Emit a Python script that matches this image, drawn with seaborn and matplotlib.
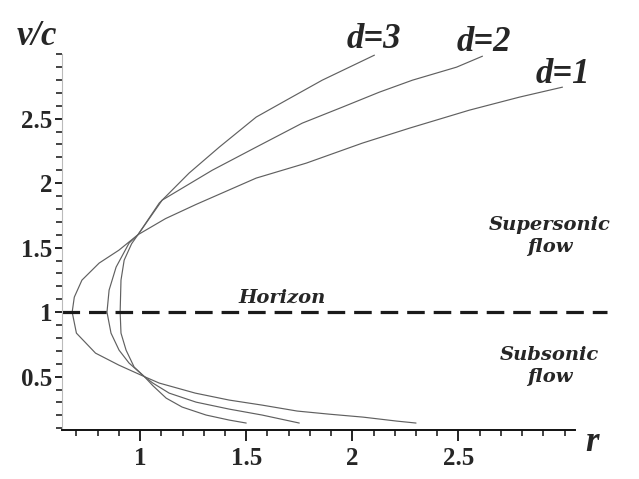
import matplotlib
matplotlib.use("Agg")
import matplotlib.pyplot as plt
from matplotlib.ticker import FixedLocator
import seaborn as sns
import pandas as pd

sns.set_style("white")
plt.rcParams['font.family'] = ['Liberation Serif', 'DejaVu Serif']

# curves, ordered from the subsonic end to the supersonic end
r_d1 = [2.30, 2.21, 2.05, 1.89, 1.74, 1.575, 1.42, 1.26, 1.09, 1.02, 0.90, 0.79, 0.70,
        0.68, 0.69, 0.726, 0.807, 0.90, 0.99, 1.12, 1.264, 1.547, 1.783, 2.047, 2.269,
        2.552, 2.788, 2.99]
v_d1 = [0.14, 0.155, 0.186, 0.209, 0.233, 0.279, 0.318, 0.372, 0.45, 0.50, 0.589, 0.682,
        0.837, 1.0, 1.116, 1.248, 1.38, 1.48, 1.60, 1.725, 1.835, 2.039, 2.155, 2.31, 2.426,
        2.566, 2.667, 2.744]

r_d2 = [1.75, 1.575, 1.42, 1.264, 1.137, 1.06, 1.02, 0.948, 0.901, 0.863, 0.844, 0.854,
        0.887, 0.948, 0.99, 1.104, 1.34, 1.547, 1.764, 1.953, 2.127, 2.283, 2.491, 2.613]
v_d2 = [0.14, 0.202, 0.248, 0.302, 0.372, 0.45, 0.50, 0.605, 0.705, 0.837, 1.0, 1.171,
        1.349, 1.535, 1.60, 1.868, 2.10, 2.279, 2.465, 2.589, 2.705, 2.798, 2.899, 2.984]

r_d3 = [1.50, 1.42, 1.311, 1.198, 1.123, 1.06, 1.02, 0.972, 0.934, 0.910, 0.906, 0.910,
        0.925, 0.96, 0.99, 1.09, 1.231, 1.373, 1.547, 1.689, 1.858, 2.104]
v_d3 = [0.14, 0.163, 0.202, 0.264, 0.333, 0.43, 0.50, 0.574, 0.705, 0.837, 1.0, 1.248,
        1.403, 1.53, 1.60, 1.845, 2.078, 2.279, 2.512, 2.643, 2.798, 2.992]

x_ticks = [1, 1.5, 2, 2.5]
x_tick_labels = ['1', '1.5', '2', '2.5']
y_ticks = [0.5, 1, 1.5, 2, 2.5]
y_tick_labels = ['0.5', '1', '1.5', '2', '2.5']
horizon_r = [0.632, 3.2]
horizon_v = [1, 1]

curves = pd.concat([
    pd.DataFrame({'r': r_d1, 'v': v_d1, 'd': 'd=1'}),
    pd.DataFrame({'r': r_d2, 'v': v_d2, 'd': 'd=2'}),
    pd.DataFrame({'r': r_d3, 'v': v_d3, 'd': 'd=3'}),
])

fig = plt.figure(figsize=(6.39, 4.79), dpi=100)
ax = fig.add_axes([0.097, 0.102, 0.853, 0.785])

for name, grp in curves.groupby('d'):
    sns.lineplot(x=grp['r'], y=grp['v'], sort=False, estimator=None, ax=ax,
                 color='#606060', linewidth=0.85)

ax.plot(horizon_r, horizon_v, color='#1a1a1a', linewidth=2.3, dashes=(5.5, 2.8),
        clip_on=False)

ax.set_xlim(0.632, 3.2)
ax.set_ylim(0.085, 3.0)
ax.set_xlabel('')
ax.set_ylabel('')

ax.spines['top'].set_visible(False)
ax.spines['right'].set_visible(False)
ax.spines['bottom'].set_bounds(0.632, 3.05)
ax.spines['bottom'].set_linewidth(1.4)
ax.spines['bottom'].set_color('#111111')
ax.spines['left'].set_color('#bbbbbb')
ax.spines['left'].set_linewidth(0.8)

ax.xaxis.set_major_locator(FixedLocator(x_ticks))
ax.set_xticklabels(x_tick_labels, fontweight='bold')
ax.xaxis.set_minor_locator(FixedLocator([0.7 + 0.1 * i for i in range(24)]))
ax.yaxis.set_major_locator(FixedLocator(y_ticks))
ax.set_yticklabels(y_tick_labels, fontweight='bold')
ax.yaxis.set_minor_locator(FixedLocator([0.1 * i for i in range(1, 31)]))

ax.tick_params(axis='both', which='major', direction='out', labelsize=18, width=1.3,
               color='#111111', bottom=True, left=True)
ax.tick_params(axis='both', which='minor', direction='out', length=4, width=1.1,
               color='#111111', bottom=True, left=True)
ax.tick_params(axis='x', which='major', length=8, pad=4)
ax.tick_params(axis='y', which='major', length=5, pad=2)

lab = dict(fontsize=25, fontweight='bold', fontstyle='italic', ha='center', va='center')
ax.text(2.10, 3.11, 'd=3', clip_on=False, **lab)
ax.text(2.62, 3.09, 'd=2', clip_on=False, **lab)
ax.text(2.99, 2.84, 'd=1', clip_on=False, **lab)
fig.text(0.058, 0.923, 'v/c', **lab)
fig.text(0.926, 0.077, 'r', **lab)

note = dict(fontsize=14, fontstyle='italic', fontweight='bold', ha='center', va='center',
            linespacing=1.3, family=['DejaVu Serif'])
ax.text(2.93, 1.59, 'Supersonic\nflow', clip_on=False, **note)
ax.text(2.93, 0.58, 'Subsonic\nflow', clip_on=False, **note)
ax.text(1.67, 1.11, 'Horizon', **note)

fig.savefig('out.png', dpi=100)
